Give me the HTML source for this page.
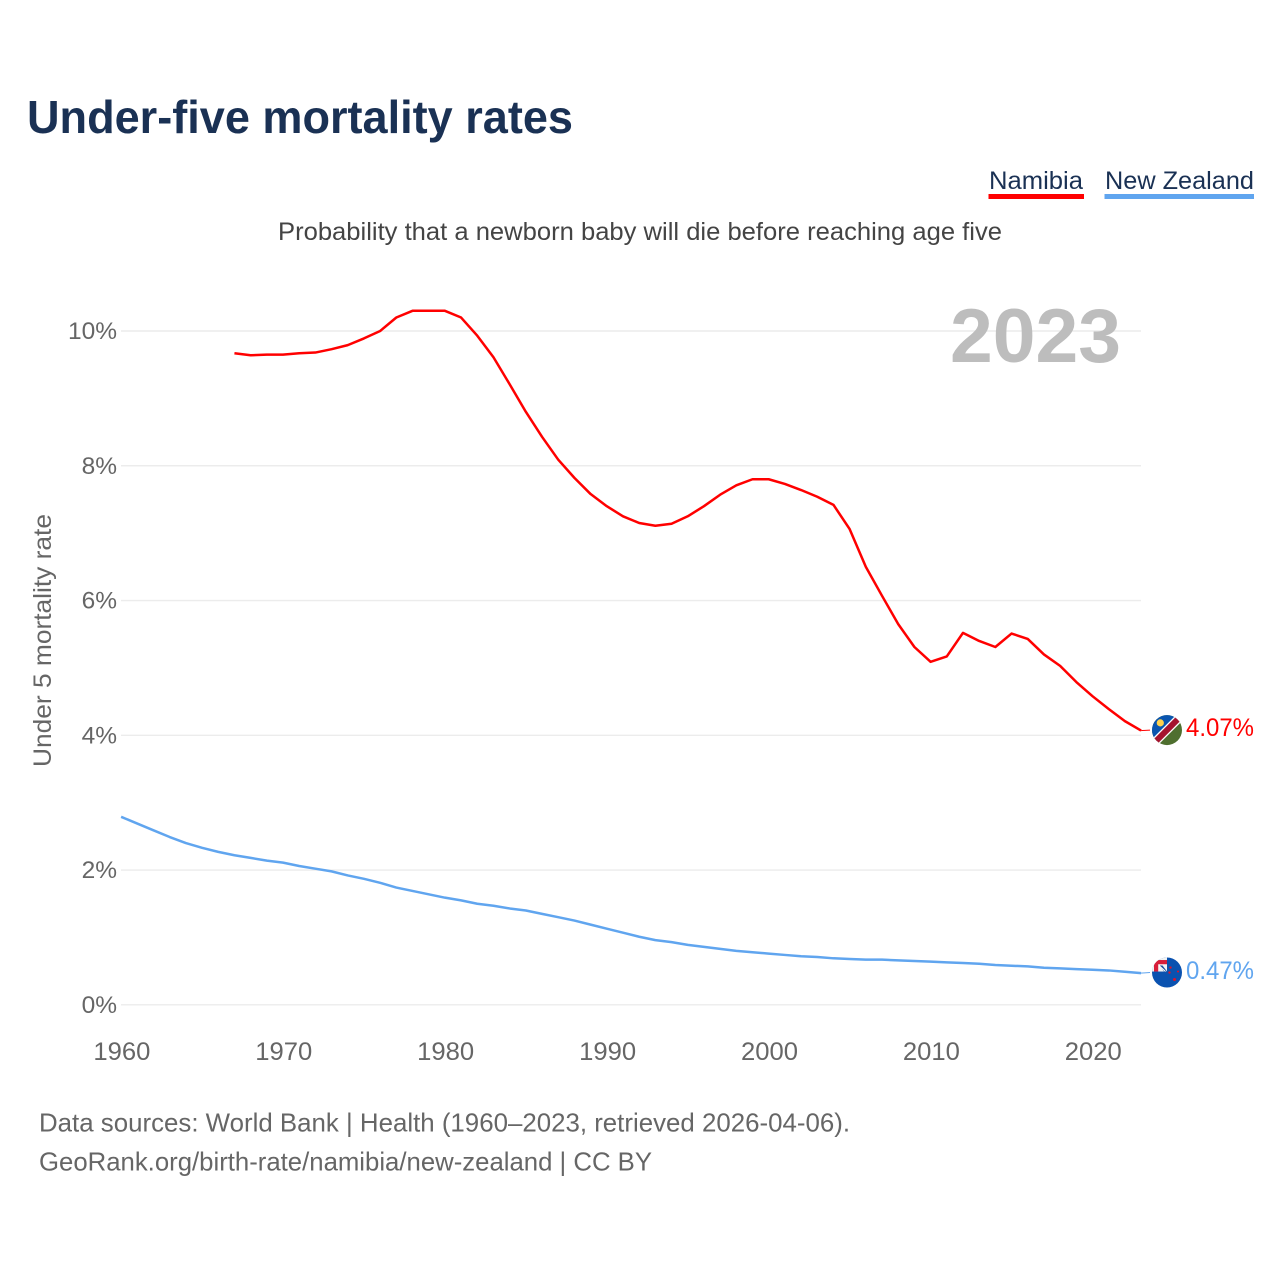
<!DOCTYPE html>
<html lang="en">
<head>
<meta charset="utf-8">
<title>Under-five mortality rates</title>
<style>
html,body{margin:0;padding:0;background:#fff;}
svg{display:block;font-family:"Liberation Sans",sans-serif;}
</style>
</head>
<body>
<svg id="chart" xmlns="http://www.w3.org/2000/svg" width="1280" height="1280" viewBox="0 0 1280 1280">
  <rect x="0" y="0" width="1280" height="1280" fill="#ffffff"/>
  <text x="27" y="133" font-size="46" font-weight="700" fill="#1a3154" textLength="546" lengthAdjust="spacingAndGlyphs">Under-five mortality rates</text>
  <text x="278" y="240" font-size="25" fill="#444444" textLength="724" lengthAdjust="spacingAndGlyphs">Probability that a newborn baby will die before reaching age five</text>

  <g>
    <text x="989" y="189" font-size="25" fill="#1a3154" textLength="94" lengthAdjust="spacingAndGlyphs">Namibia</text>
    <rect x="988.5" y="194" width="95.5" height="5" fill="#ff0000"/>
  </g>
  <g>
    <text x="1105" y="189" font-size="25" fill="#1a3154" textLength="149" lengthAdjust="spacingAndGlyphs">New Zealand</text>
    <rect x="1104.5" y="194" width="149.5" height="5" fill="#60a5ef"/>
  </g>

  <g id="grid"></g>
  <g id="yticks"></g>
  <g id="xticks"></g>

  <text transform="translate(51,767) rotate(-90)" font-size="25" fill="#666666" textLength="253" lengthAdjust="spacingAndGlyphs">Under 5 mortality rate</text>
  <text x="950" y="362" font-size="76" font-weight="700" fill="#bdbdbd" textLength="171" lengthAdjust="spacingAndGlyphs">2023</text>

  <g id="series"></g>
  <g id="flag-namibia"></g>
  <g id="flag-nz"></g>

  <text x="39" y="1131.5" font-size="26" fill="#666666" textLength="811" lengthAdjust="spacingAndGlyphs">Data sources: World Bank | Health (1960–2023, retrieved 2026-04-06).</text>
  <text x="39" y="1170.5" font-size="26" fill="#666666" textLength="613" lengthAdjust="spacingAndGlyphs">GeoRank.org/birth-rate/namibia/new-zealand | CC BY</text>
</svg>
<script>
var xTickYears = [1960, 1970, 1980, 1990, 2000, 2010, 2020];
var yTickValues = [0, 2, 4, 6, 8, 10];
var namibiaStartYear = 1967;
var namibiaValues = [9.67, 9.64, 9.65, 9.65, 9.67, 9.68, 9.73, 9.79, 9.89, 10.0, 10.2, 10.3, 10.3, 10.3, 10.2, 9.93, 9.61, 9.21, 8.8, 8.43, 8.09, 7.82, 7.58, 7.4, 7.25, 7.15, 7.11, 7.14, 7.25, 7.4, 7.57, 7.71, 7.8, 7.8, 7.73, 7.64, 7.54, 7.42, 7.06, 6.5, 6.07, 5.65, 5.31, 5.09, 5.17, 5.52, 5.4, 5.31, 5.51, 5.43, 5.2, 5.03, 4.79, 4.58, 4.39, 4.21, 4.07];
var nzStartYear = 1960;
var nzValues = [2.79, 2.69, 2.59, 2.49, 2.4, 2.33, 2.27, 2.22, 2.18, 2.14, 2.11, 2.06, 2.02, 1.98, 1.92, 1.87, 1.81, 1.74, 1.69, 1.64, 1.59, 1.55, 1.5, 1.47, 1.43, 1.4, 1.35, 1.3, 1.25, 1.19, 1.13, 1.07, 1.01, 0.96, 0.93, 0.89, 0.86, 0.83, 0.8, 0.78, 0.76, 0.74, 0.72, 0.71, 0.69, 0.68, 0.67, 0.67, 0.66, 0.65, 0.64, 0.63, 0.62, 0.61, 0.59, 0.58, 0.57, 0.55, 0.54, 0.53, 0.52, 0.51, 0.49, 0.47];

var NS = 'http://www.w3.org/2000/svg';
function xScale(year) { return 121.1 + (year - 1960) * 16.19; }
function yScale(value) { return 1004.8 - value * 67.38; }
function make(tag, attrs, parent) {
  var el = document.createElementNS(NS, tag);
  for (var k in attrs) { el.setAttribute(k, attrs[k]); }
  parent.appendChild(el);
  return el;
}
function linePath(startYear, values) {
  return values.map(function (v, i) {
    return (i ? 'L' : 'M') + xScale(startYear + i).toFixed(2) + ' ' + yScale(v).toFixed(2);
  }).join(' ');
}

var grid = document.getElementById('grid');
var yticks = document.getElementById('yticks');
yTickValues.forEach(function (v) {
  var line = make('line', {x1: 121, x2: 1141, y1: yScale(v), y2: yScale(v), stroke: '#ececec', 'stroke-width': 1.4}, grid);
  
  
  var label = make('text', {x: 117, y: yScale(v) + 8, 'text-anchor': 'end', 'font-size': 24.5, fill: '#666666'}, yticks);
  label.textContent = v + '%';
  
  
});

var xticks = document.getElementById('xticks');
xTickYears.forEach(function (yr) {
  var label = make('text', {x: xScale(yr) + 0.8, y: 1060, 'text-anchor': 'middle', 'font-size': 25, fill: '#666666', textLength: 57, lengthAdjust: 'spacingAndGlyphs'}, xticks);
  label.textContent = String(yr);
  
  
});

var series = document.getElementById('series');
var nzLine = make('path', {d: linePath(nzStartYear, nzValues), fill: 'none', stroke: '#60a5ef', 'stroke-width': 2.5, 'stroke-linejoin': 'round'}, series);


var naLine = make('path', {d: linePath(namibiaStartYear, namibiaValues), fill: 'none', stroke: '#ff0000', 'stroke-width': 2.5, 'stroke-linejoin': 'round'}, series);



var lastYear = 2023;
var naLast = namibiaValues[namibiaValues.length - 1];
var nzLast = nzValues[nzValues.length - 1];
var naY = yScale(naLast);
var nzY = yScale(nzLast) - 0.6;
var nzFlagY = nzY;

var naConn = make('line', {x1: xScale(lastYear), x2: 1150, y1: yScale(naLast), y2: naY - 0.5, stroke: '#ff0000', 'stroke-width': 1}, series);


var nzConn = make('line', {x1: xScale(lastYear), x2: 1150, y1: yScale(nzLast), y2: nzFlagY, stroke: '#60a5ef', 'stroke-width': 1}, series);



var naLabel = make('text', {x: 1186, y: naY + 5.5, 'font-size': 25, fill: '#ff0000', textLength: 68, lengthAdjust: 'spacingAndGlyphs'}, series);
naLabel.textContent = naLast.toFixed(2) + '%';


var nzLabel = make('text', {x: 1186, y: nzFlagY + 6.5, 'font-size': 25, fill: '#60a5ef', textLength: 68, lengthAdjust: 'spacingAndGlyphs'}, series);
nzLabel.textContent = nzLast.toFixed(2) + '%';



/* Namibia flag */
var fn = document.getElementById('flag-namibia');
fn.setAttribute('transform', 'translate(1167,' + (naY - 0.5) + ')');
var defs = make('defs', {}, document.getElementById('chart'));
var c1 = make('clipPath', {id: 'clip-na'}, defs);
make('circle', {cx: 0, cy: 0, r: 15}, c1);
var c2 = make('clipPath', {id: 'clip-nz'}, defs);
make('circle', {cx: 0, cy: 0, r: 15}, c2);
var naG = make('g', {'clip-path': 'url(#clip-na)'}, fn);
make('rect', {x: -16, y: -16, width: 32, height: 32, fill: '#4f6f2f'}, naG);
make('polygon', {points: '-16,-16 16,-16 -16,16', fill: '#0a55b0'}, naG);
make('line', {x1: -18, y1: 18, x2: 18, y2: -18, stroke: '#ffffff', 'stroke-width': 8.5}, naG);
make('line', {x1: -18, y1: 18, x2: 18, y2: -18, stroke: '#a5142f', 'stroke-width': 6}, naG);
make('circle', {cx: -6.7, cy: -7.2, r: 3.6, fill: '#ffd24d'}, naG);

/* New Zealand flag */
var fz = document.getElementById('flag-nz');
fz.setAttribute('transform', 'translate(1167,' + nzFlagY + ')');
var nzG = make('g', {'clip-path': 'url(#clip-nz)'}, fz);
make('rect', {x: -16, y: -16, width: 32, height: 32, fill: '#0a52b0'}, nzG);
make('rect', {x: -16, y: -16, width: 16, height: 15, fill: '#f2f2f2'}, nzG);
make('rect', {x: -13, y: -12.5, width: 13, height: 4.2, fill: '#d81e3a'}, nzG);
make('rect', {x: -13, y: -12.5, width: 4.2, height: 11.5, fill: '#d81e3a'}, nzG);
make('polygon', {points: '-7.5,-7 -4.5,-7 0,-1 -3,-1', fill: '#1f4f9c'}, nzG);
make('line', {x1: -8, y1: -7, x2: -1.5, y2: -1, stroke: '#ffffff', 'stroke-width': 1}, nzG);
[[3.5, -5, 1.2], [2.5, 0, 1.2], [11, -1, 1], [7.5, 7, 1.5]].forEach(function (s) {
  make('circle', {cx: s[0], cy: s[1], r: s[2], fill: '#e0122c'}, nzG);
});
</script>
</body>
</html>
